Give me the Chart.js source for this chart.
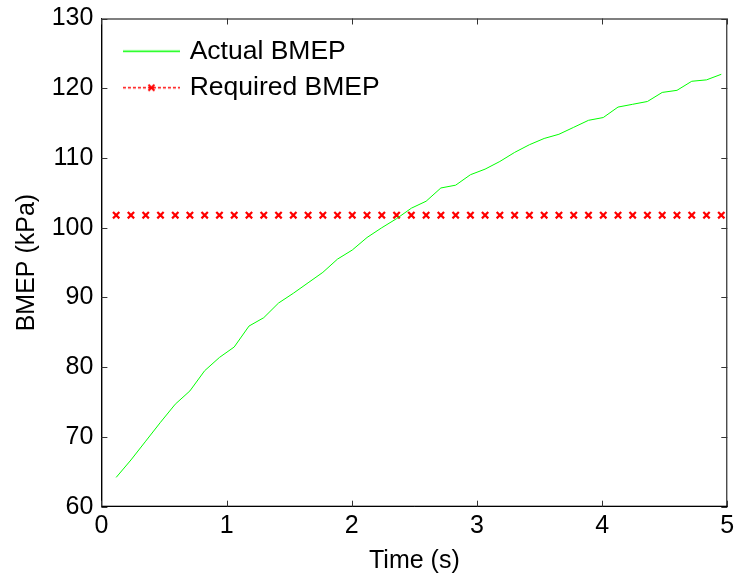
<!DOCTYPE html>
<html>
<head>
<meta charset="utf-8">
<script src="https://cdn.jsdelivr.net/npm/chart.js@4.4.1/dist/chart.umd.min.js"></script>
<style>
  body { margin: 0; background: #fff; }
  #wrap { width: 734px; height: 576px; }
</style>
</head>
<body>
<div id="wrap"><canvas id="bmepChart"></canvas></div>
<script>
// time samples (s)
const times = [
  0.118, 0.236, 0.354, 0.472, 0.590, 0.707, 0.825, 0.943, 1.061, 1.179,
  1.297, 1.415, 1.533, 1.651, 1.769, 1.886, 2.004, 2.122, 2.240, 2.358,
  2.476, 2.594, 2.712, 2.830, 2.948, 3.065, 3.183, 3.301, 3.419, 3.537,
  3.655, 3.773, 3.891, 4.009, 4.127, 4.244, 4.362, 4.480, 4.598, 4.716,
  4.834, 4.952
];
// actual BMEP (kPa)
const actualBmep = [
  64.2, 66.7, 69.4, 72.1, 74.7, 76.6, 79.5, 81.4, 82.9, 85.9,
  87.1, 89.2, 90.6, 92.1, 93.6, 95.5, 96.8, 98.6, 100.0, 101.3,
  102.8, 103.8, 105.7, 106.1, 107.6, 108.4, 109.5, 110.8, 111.9, 112.8,
  113.4, 114.4, 115.4, 115.8, 117.3, 117.7, 118.1, 119.4, 119.7, 121.0,
  121.2, 122.0
];
// required BMEP (kPa)
const requiredBmep = [
  101.8, 101.8, 101.8, 101.8, 101.8, 101.8, 101.8, 101.8, 101.8, 101.8,
  101.8, 101.8, 101.8, 101.8, 101.8, 101.8, 101.8, 101.8, 101.8, 101.8,
  101.8, 101.8, 101.8, 101.8, 101.8, 101.8, 101.8, 101.8, 101.8, 101.8,
  101.8, 101.8, 101.8, 101.8, 101.8, 101.8, 101.8, 101.8, 101.8, 101.8,
  101.8, 101.8
];
const xTicks = [0, 1, 2, 3, 4, 5];
const yTicks = [60, 70, 80, 90, 100, 110, 120, 130];

const FONT = "'Liberation Sans', Arial, sans-serif";

// little legend samples, matlab style
function legendSample(color, dashed, marker) {
  const c = document.createElement("canvas");
  c.width = 57; c.height = 11;
  const g = c.getContext("2d");
  g.strokeStyle = color;
  g.lineWidth = 1.6;
  if (dashed) g.setLineDash([3, 2]);
  g.beginPath(); g.moveTo(0, 5.5); g.lineTo(57, 5.5); g.stroke();
  if (marker) {
    g.setLineDash([]);
    g.lineWidth = 2;
    g.beginPath();
    g.moveTo(25.5, 2.5); g.lineTo(31.5, 8.5);
    g.moveTo(31.5, 2.5); g.lineTo(25.5, 8.5);
    g.stroke();
  }
  return c;
}
const samples = [legendSample("#00ff00", false, false), legendSample("#ff0000", true, true)];

// nudge the legend inside the plot box
const legendNudge = {
  id: "legendNudge",
  afterLayout(chart) {
    const lg = chart.legend;
    if (!lg) return;
    lg.left += 15;
    lg.right += 15;
    lg.top += 28;
    lg.bottom += 28;
  }
};

// box around the plot + inward ticks like matlab
const framePlugin = {
  id: "frame",
  afterDraw(chart) {
    const { ctx, chartArea: a, scales } = chart;
    ctx.save();
    ctx.strokeStyle = "#000";
    ctx.lineWidth = 1;
    ctx.strokeRect(a.left + 0.5, a.top + 0.5, a.right - a.left - 1, a.bottom - a.top - 1);
    ctx.strokeStyle = "#333";
    ctx.beginPath();
    xTicks.forEach(v => {
      const px = Math.round(scales.x.getPixelForValue(v)) + 0.5;
      ctx.moveTo(px, a.bottom); ctx.lineTo(px, a.bottom - 6);
      ctx.moveTo(px, a.top); ctx.lineTo(px, a.top + 6);
    });
    yTicks.forEach(v => {
      const py = Math.round(scales.y.getPixelForValue(v)) + 0.5;
      ctx.moveTo(a.left, py); ctx.lineTo(a.left + 6, py);
      ctx.moveTo(a.right, py); ctx.lineTo(a.right - 6, py);
    });
    ctx.stroke();
    ctx.restore();
  }
};

new Chart(document.getElementById("bmepChart"), {
  type: "line",
  data: {
    datasets: [
      {
        label: "Actual BMEP",
        data: times.map((t, i) => ({ x: t, y: actualBmep[i] })),
        borderColor: "#00ff00",
        borderWidth: 1,
        pointRadius: 0,
        tension: 0,
        fill: false
      },
      {
        label: "Required BMEP",
        data: times.map((t, i) => ({ x: t, y: requiredBmep[i] })),
        borderColor: "#ff0000",
        backgroundColor: "#ff0000",
        showLine: false,
        pointStyle: "crossRot",
        pointRadius: 4.5,
        pointBorderWidth: 2.2,
        fill: false
      }
    ]
  },
  options: {
    responsive: true,
    maintainAspectRatio: false,
    animation: false,
    layout: { padding: { left: 0, top: 18.5, right: 6.3, bottom: 0 } },
    plugins: {
      tooltip: { enabled: false },
      legend: {
        position: "chartArea",
        align: "start",
        labels: {
          usePointStyle: true,
          pointStyleWidth: 50,
          padding: 10,
          color: "#000",
          font: { family: FONT, size: 26.5 },
          generateLabels(chart) {
            const items = Chart.defaults.plugins.legend.labels.generateLabels(chart);
            items.forEach((it, i) => { it.pointStyle = samples[i]; });
            return items;
          }
        }
      }
    },
    scales: {
      x: {
        type: "linear",
        min: 0,
        max: 5,
        afterFit(s) { s.height = 69.3; s.paddingLeft = 0; s.paddingRight = 0; },
        afterBuildTicks(s) { s.ticks = xTicks.map(v => ({ value: v })); },
        grid: { display: false, drawTicks: false },
        border: { display: true, color: "#000", width: 1 },
        ticks: { color: "#000", padding: 4, font: { family: FONT, size: 25 } },
        title: {
          display: true,
          text: "Time (s)",
          color: "#000",
          padding: { top: 0, bottom: 0 },
          font: { family: FONT, size: 25 }
        }
      },
      y: {
        min: 60,
        max: 130,
        afterFit(s) { s.width = 101.4; s.paddingTop = 0; s.paddingBottom = 0; },
        afterBuildTicks(s) { s.ticks = yTicks.map(v => ({ value: v })); },
        grid: { display: false, drawTicks: false },
        border: { display: true, color: "#000", width: 1 },
        ticks: { color: "#000", padding: 8, font: { family: FONT, size: 25 } },
        title: {
          display: true,
          text: "BMEP (kPa)",
          color: "#000",
          padding: { top: 12, bottom: 0 },
          font: { family: FONT, size: 25 }
        }
      }
    }
  },
  plugins: [legendNudge, framePlugin]
});
</script>
</body>
</html>
